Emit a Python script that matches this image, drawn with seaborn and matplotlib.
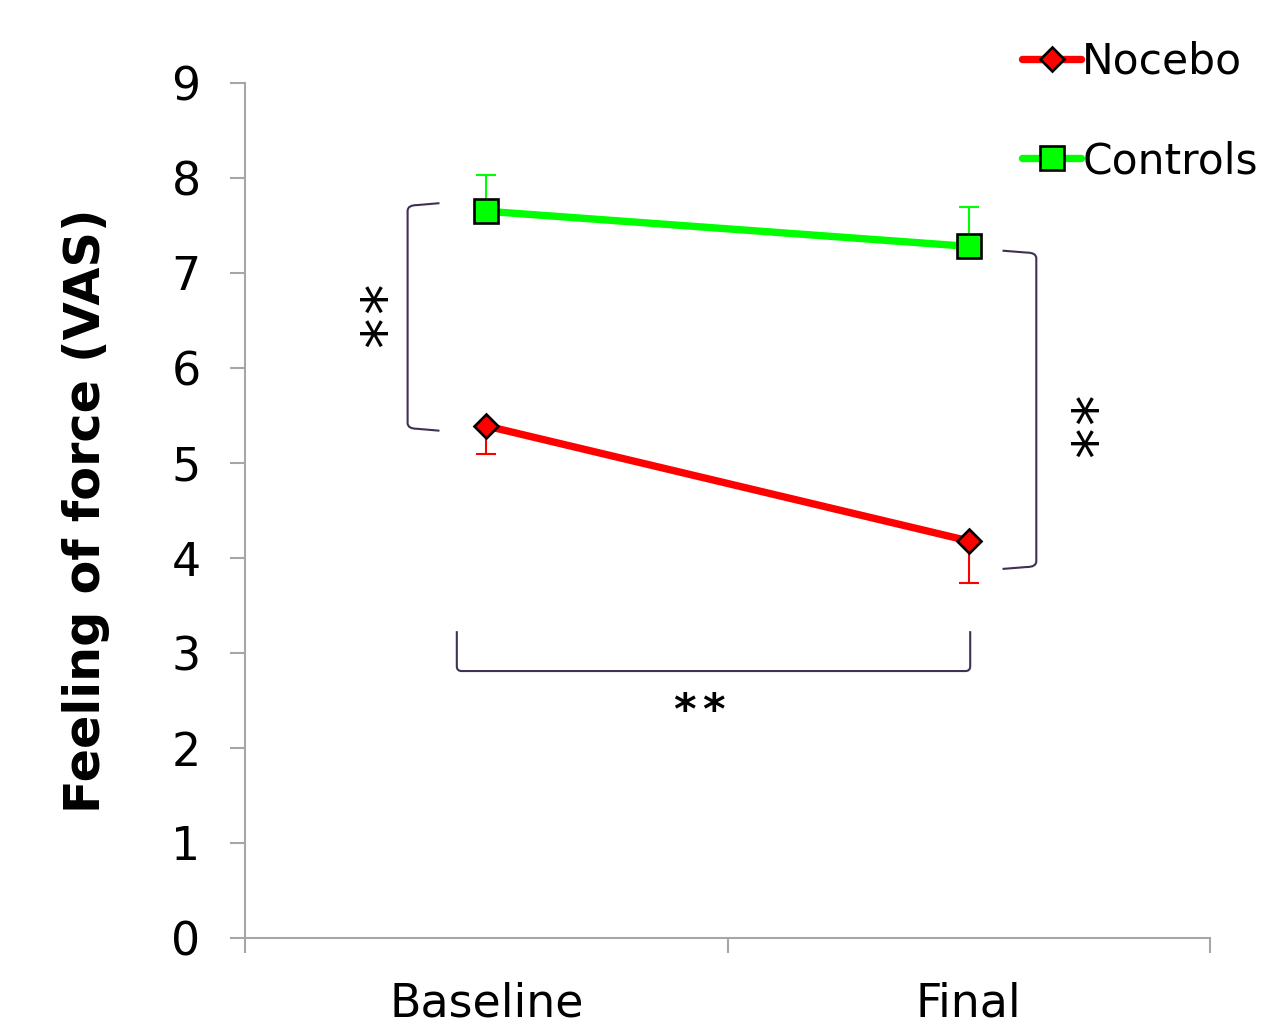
import numpy as np
import pandas as pd
import matplotlib
matplotlib.use('Agg')
import matplotlib.pyplot as plt
import seaborn as sns
from matplotlib.path import Path
from matplotlib.patches import PathPatch

# ---- data ----
times = ['Baseline', 'Final']
nocebo = [5.39, 4.18]
nocebo_err = [0.30, 0.44]      # plotted downward
controls = [7.65, 7.28]
controls_err = [0.38, 0.42]    # plotted upward
y_ticks = list(range(0, 10))

sns.set_style('white')
plt.rcParams['font.family'] = ['DejaVu Sans']
plt.rcParams['text.color'] = 'black'
plt.rcParams['xtick.labelcolor'] = 'black'
plt.rcParams['ytick.labelcolor'] = 'black'
plt.rcParams['axes.labelcolor'] = 'black'

W, H = 1261, 1030
fig = plt.figure(figsize=(W / 100, H / 100), dpi=100)
ax = fig.add_axes([245 / W, 1 - 938 / H, (1210 - 245) / W, (938 - 83) / H])

pos = np.arange(len(times))
df = pd.DataFrame({'pos': np.concatenate([pos, pos]),
                   'value': nocebo + controls,
                   'group': ['Nocebo'] * len(times) + ['Controls'] * len(times)})

RED = '#ff0000'
GREEN = '#00ff00'
AX_GRAY = '#a6a6a6'
BRK = '#3f3151'

# error bars (one-sided)
ax.errorbar(pos, nocebo, yerr=[nocebo_err, [0] * len(pos)], fmt='none',
            ecolor=RED, elinewidth=1.5, capsize=7, capthick=1.5, zorder=2)
ax.errorbar(pos, controls, yerr=[[0] * len(pos), controls_err], fmt='none',
            ecolor=GREEN, elinewidth=1.5, capsize=7, capthick=1.5, zorder=2)

sns.lineplot(data=df[df.group == 'Nocebo'], x='pos', y='value', color=RED,
             marker='D', markersize=12.5, markeredgecolor='black', markeredgewidth=1.9,
             linewidth=5.3, label='Nocebo', errorbar=None, ax=ax, zorder=3)
sns.lineplot(data=df[df.group == 'Controls'], x='pos', y='value', color=GREEN,
             marker='s', markersize=17, markeredgecolor='black', markeredgewidth=1.9,
             linewidth=5.3, label='Controls', errorbar=None, ax=ax, zorder=3)

if ax.get_legend() is not None:
    ax.get_legend().remove()

# axes styling
ax.set_xlim(-0.5, len(times) - 0.5)
ax.set_ylim(0, 9)
ax.set_yticks(y_ticks)
ax.set_xticks(np.arange(len(times) + 1) - 0.5)
ax.set_xticklabels([])
ax.set_xticks(pos, minor=True)
ax.set_xticklabels(times, minor=True)
for s in ['top', 'right']:
    ax.spines[s].set_visible(False)
for s in ['left', 'bottom']:
    ax.spines[s].set_color(AX_GRAY)
    ax.spines[s].set_linewidth(1.5)
ax.tick_params(axis='both', which='major', direction='out', length=11, width=1.5,
               color=AX_GRAY, labelsize=33, labelcolor='black', left=True, bottom=True)
ax.tick_params(axis='y', which='major', pad=21)
ax.tick_params(axis='x', which='minor', length=0, labelsize=33, labelcolor='black', pad=31)
ax.set_xlabel('')
ax.set_ylabel('Feeling of force (VAS)', fontsize=35.5, fontweight='bold', color='black')
ax.yaxis.set_label_coords(-0.14, 0.5)


# significance brackets (annotation geometry)
def draw(verts, codes):
    ax.add_patch(PathPatch(Path(verts, codes), fill=False, edgecolor=BRK,
                           linewidth=1.5, zorder=1, clip_on=False))


def side_bracket(x_end, x_v, y_top, y_bot, dx=0.02, dy=0.06):
    sgn = 1 if x_end > x_v else -1
    verts = [(x_end, y_top + 0.02), (x_v + sgn * dx, y_top), (x_v, y_top), (x_v, y_top - dy),
             (x_v, y_bot + dy), (x_v, y_bot), (x_v + sgn * dx, y_bot),
             (x_end, y_bot - 0.02)]
    codes = [Path.MOVETO, Path.LINETO, Path.CURVE3, Path.CURVE3,
             Path.LINETO, Path.CURVE3, Path.CURVE3, Path.LINETO]
    draw(verts, codes)


side_bracket(-0.097, -0.163, 7.715, 5.36)
side_bracket(1.070, 1.140, 7.215, 3.905)

# bottom bracket
xl, xr, yt, yb = -0.061, 1.003, 3.23, 2.81
verts = [(xl, yt), (xl, yb + 0.05), (xl, yb), (xl + 0.01, yb),
         (xr - 0.01, yb), (xr, yb), (xr, yb + 0.05), (xr, yt)]
codes = [Path.MOVETO, Path.LINETO, Path.CURVE3, Path.CURVE3,
         Path.LINETO, Path.CURVE3, Path.CURVE3, Path.LINETO]
draw(verts, codes)

# asterisks
for (xx, yy) in [(-0.205, 6.74), (-0.205, 6.38), (1.27, 5.57), (1.27, 5.22)]:
    ax.text(xx, yy, '*', rotation=90, fontsize=44, ha='center', va='center',
            color='black', clip_on=False)
for xx in [0.41, 0.47]:
    ax.text(xx, 2.38, '*', fontsize=31, fontweight='bold', ha='center', va='center',
            color='black', clip_on=False)

handles, labels = ax.get_legend_handles_labels()
fig.legend(handles, labels, loc='upper left', bbox_to_anchor=(1022 / W, 1 - 41 / H),
           frameon=False, fontsize=30.5, handlelength=1.4, handletextpad=0.02,
           labelspacing=1.35, borderpad=0, borderaxespad=0)

fig.savefig('out.png', dpi=100)
